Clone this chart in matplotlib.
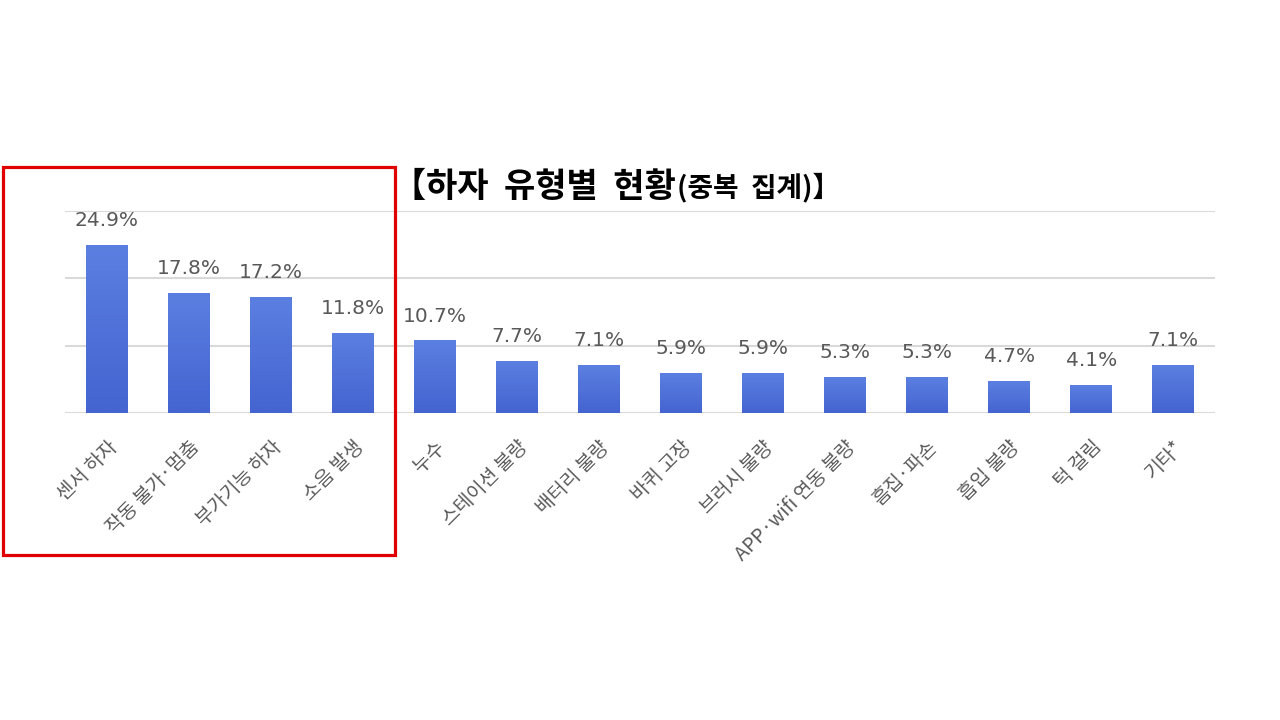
import matplotlib
matplotlib.use("Agg")
import matplotlib.pyplot as plt
import numpy as np
from matplotlib.patches import Rectangle
from matplotlib.colors import LinearSegmentedColormap

# categories and shares (%)
categories = ["센서 하자", "작동 불가·멈춤", "부가기능 하자", "소음 발생", "누수",
              "스테이션 불량", "배터리 불량", "바퀴 고장", "브러시 불량",
              "APP·wifi 연동 불량", "흠집·파손", "흡입 불량", "턱 걸림", "기타*"]
values = [24.9, 17.8, 17.2, 11.8, 10.7, 7.7, 7.1, 5.9, 5.9, 5.3, 5.3, 4.7, 4.1, 7.1]
gridlines = [0, 10, 20, 30]

plt.rcParams['font.family'] = ['Noto Sans CJK KR', 'DejaVu Sans']

fig = plt.figure(figsize=(12.8, 7.2), dpi=100)
fig.patch.set_facecolor("white")

ax = fig.add_axes([65 / 1280, 1 - 413 / 720, 1150 / 1280, 202 / 720])
x = list(range(len(categories)))
bars = ax.bar(x, values, width=0.51, color="#5073d9", zorder=3)

# soft vertical gradient on each bar (lighter on top)
grad_cmap = LinearSegmentedColormap.from_list("bar", ["#4464d0", "#5b7fe1"])
grad = np.linspace(0, 1, 64).reshape(-1, 1)
for b in bars:
    x0, w, h = b.get_x(), b.get_width(), b.get_height()
    ax.imshow(grad, cmap=grad_cmap, origin="lower", aspect="auto",
              extent=(x0, x0 + w, 0, h), zorder=4)

# value labels above bars
for b, v in zip(bars, values):
    ax.annotate(f"{v}%", (b.get_x() + b.get_width() / 2, v),
                xytext=(0, 11), textcoords="offset points",
                ha="center", va="bottom", fontsize=14.5, color="#595959",
                family=["DejaVu Sans"])

ax.set_xlim(-0.51, len(categories) - 0.49)
ax.set_ylim(0, 30)
ax.set_yticks(gridlines)
ax.yaxis.grid(True, color="#d9d9d9", linewidth=1.5, zorder=0)
ax.tick_params(axis="y", left=False, labelleft=False)
ax.tick_params(axis="x", length=0, pad=17)
ax.set_xticks(x)
ax.set_xticklabels(categories, rotation=45, ha="right", rotation_mode="anchor",
                   fontsize=14, color="#595959")
for s in ax.spines.values():
    s.set_visible(False)

# title, second part placed right after the first
t1 = fig.text(392 / 1280, 1 - 186 / 720, "【하자  유형별  현황", fontsize=24.5,
              fontweight="bold", color="black", ha="left", va="center")
fig.canvas.draw()
ax.annotate("(중복  집계)】", xy=(1, 0.5), xycoords=t1, xytext=(1, -1),
            textcoords="offset points", fontsize=20, fontweight="bold",
            color="black", ha="left", va="center", annotation_clip=False)

# red highlight box
fig.patches.append(Rectangle((3 / 1280, 1 - 555 / 720), 392 / 1280, 388 / 720,
                             transform=fig.transFigure, fill=False,
                             edgecolor="#e00000", linewidth=2.3))

fig.savefig("out.png", dpi=100)
